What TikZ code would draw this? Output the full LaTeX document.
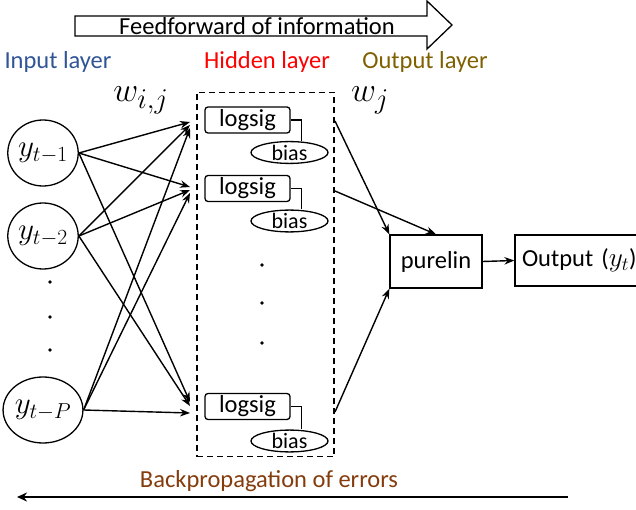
\documentclass[tikz,border=0pt]{standalone}
\usepackage{graphicx}
\usepackage{fontspec}
\setmainfont{Carlito}
\usetikzlibrary{arrows.meta,calc,shapes.geometric}
\definecolor{inblue}{HTML}{2F5597}
\definecolor{hidred}{HTML}{FF0000}
\definecolor{outgold}{HTML}{7F6000}
\definecolor{backbrown}{HTML}{843C0C}
\newcommand{\mymathbig}[1]{\scalebox{1.25}{$#1$}}
\newcommand{\mymathw}[1]{\scalebox{1.38}{$#1$}}
\tikzset{
  txt/.style={font=\fontsize{24.5}{28}\selectfont, inner sep=0pt},
  mth/.style={inner sep=0pt, font=\fontsize{24.88}{30}\selectfont},
  inp/.style={draw, line width=1.3pt, ellipse, minimum width=68pt, minimum height=66pt, inner sep=0pt, font=\fontsize{24}{28}\selectfont},
  lsig/.style={draw, line width=1.3pt, rounded corners=3pt, minimum width=85pt, minimum height=26pt, inner sep=0pt, font=\fontsize{24.5}{28}\selectfont},
  biasn/.style={draw, line width=1.3pt, ellipse, minimum width=77pt, minimum height=19pt, inner sep=0pt, font=\fontsize{22}{26}\selectfont},
  boxn/.style={draw, line width=1.3pt, inner sep=0pt, font=\fontsize{24.5}{28}\selectfont},
  arr/.style={line width=1.4pt, -{Stealth[length=10pt,width=7.5pt]}},
  dotn/.style={fill, circle, inner sep=0pt, minimum size=3.6pt},
}
\begin{document}
\begin{tikzpicture}[x=1pt,y=-1pt]
\useasboundingbox (0,0) rectangle (636,510);
% feedforward block arrow
\draw[line width=1.3pt, fill=white] (75,16) -- (427,16) -- (427,1) -- (452,25) -- (427,49) -- (427,36) -- (75,36) -- cycle;
\node[txt] (ff) at (257,26) {Feedforward of information};
% layer labels
\node[txt, text=inblue] (lin) at (58,62) {Input layer};
\node[txt, text=hidred] (lhid) at (267,62) {Hidden layer};
\node[txt, text=outgold] (lout) at (425,62) {Output layer};
\node[mth] (wij) at (141,100) {\mymathw{w_{i,j}}};
\node[mth] (wj) at (370,100) {\mymathw{w_{j}}};
% inputs
\node[inp] (y1) at (43,153) {\mymathbig{y_{t-1}}};
\node[inp] (y2) at (43,236) {\mymathbig{y_{t-2}}};
\node[inp] (yp) at (43,410) {\mymathbig{y_{t-P}}};
\node[dotn] (d1) at (50,282) {};
\node[dotn] (d2) at (50,317) {};
\node[dotn] (d3) at (50,350) {};
% hidden box
\node[draw, line width=1.3pt, dash pattern=on 6pt off 4pt, minimum width=137pt, minimum height=364pt, inner sep=0pt] (hid) at (265.5,274.5) {};
\node[lsig] (l1) at (247.5,120) {logsig};
\node[lsig] (l2) at (247.5,188.5) {logsig};
\node[lsig] (l3) at (247.5,406.5) {logsig};
\node[biasn] (b1) at (289.5,152.5) {bias};
\node[biasn] (b2) at (289.5,221) {bias};
\node[biasn] (b3) at (289.5,441) {bias};
\foreach \i in {1,2,3}{
  \draw[line width=1.3pt] (l\i.east) -| ($(b\i.north)+(12,0)$);
}
\node[dotn] (hd1) at (262,265) {};
\node[dotn] (hd2) at (262,303) {};
\node[dotn] (hd3) at (262,343) {};
% targets on hidden box
\coordinate (t11) at (190,122);
\coordinate (t21) at (190,125);
\coordinate (tp1) at (190,128);
\coordinate (t12) at (190,187);
\coordinate (t22) at (190,190);
\coordinate (tp2) at (190,193);
\coordinate (t13) at (190,402);
\coordinate (t23) at (190,406);
\coordinate (tp3) at (190,413);
\draw[arr] (y1.east) -- (t11);
\draw[arr] (y1.east) -- (t12);
\draw[arr] (y1.east) -- (t13);
\draw[arr] (y2.east) -- (t21);
\draw[arr] (y2.east) -- (t22);
\draw[arr] (y2.east) -- (t23);
\draw[arr] (yp.east) -- (tp1);
\draw[arr] (yp.east) -- (tp2);
\draw[arr] (yp.east) -- (tp3);
% output side
\node[boxn, minimum width=92pt, minimum height=53pt] (pl) at (436,261.5) {purelin};
\node[boxn, minimum width=125pt, minimum height=51pt, text width=125pt, align=left] (out) at (577.5,260.5) {\hspace{7pt}Output (\scalebox{1.1}{$y_t$})};
\coordinate (s1) at (335,121);
\coordinate (s2) at (335,191);
\coordinate (s3) at (335,412);
\draw[arr] (s1) -- (pl.north west);
\draw[arr] (s2) -- (pl.north);
\draw[arr] (s3) -- (pl.south west);
\draw[arr] (pl.east) -- (out.west);
% backpropagation
\node[txt, text=backbrown] (bp) at (269,481) {Backpropagation of errors};
\coordinate (bpa) at (568,497);
\coordinate (bpb) at (17,497);
\draw[line width=2.6pt, -{Stealth[length=10pt,width=9pt]}] (bpa) -- (bpb);
\end{tikzpicture}
\end{document}
